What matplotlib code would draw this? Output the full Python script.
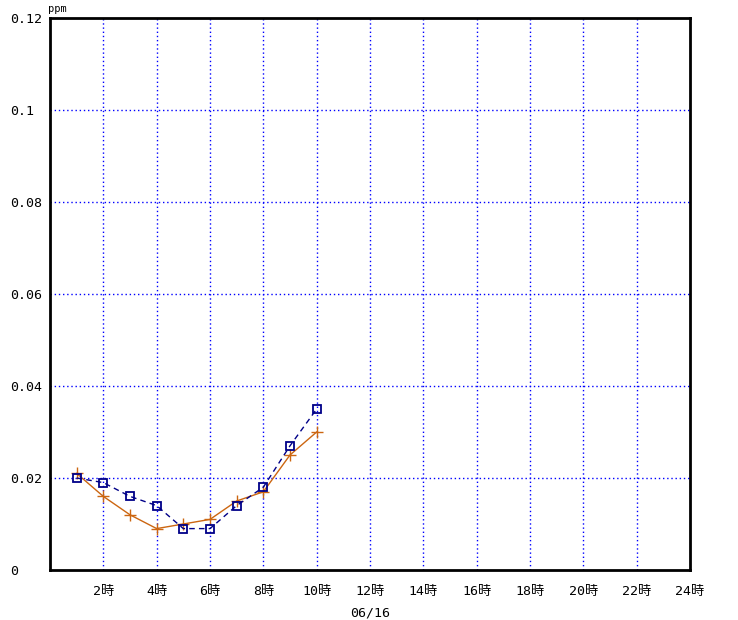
import matplotlib
matplotlib.use("Agg")
import matplotlib.pyplot as plt

plt.rcParams['font.family'] = ['DejaVu Sans Mono', 'Noto Sans CJK JP']

# data
hours = [1, 2, 3, 4, 5, 6, 7, 8, 9, 10]
blue_vals = [0.020, 0.019, 0.016, 0.014, 0.009, 0.009, 0.014, 0.018, 0.027, 0.035]
orange_vals = [0.021, 0.016, 0.012, 0.009, 0.010, 0.011, 0.015, 0.017, 0.025, 0.030]
x_ticks = list(range(2, 25, 2))
x_labels = [f"{h}時" for h in x_ticks]
y_ticks = [0, 0.02, 0.04, 0.06, 0.08, 0.1, 0.12]
y_labels = ["0", "0.02", "0.04", "0.06", "0.08", "0.1", "0.12"]

fig = plt.figure(figsize=(7.38, 6.2), dpi=100)
ax = fig.add_axes([50 / 738, 50 / 620, 640 / 738, 552 / 620])

ax.plot(hours, orange_vals, color="#cc6611", lw=1, marker="+", ms=8, mew=1)
ax.plot(hours, blue_vals, color="#000088", lw=1, ls=(0, (4, 3)), marker="s", ms=6,
        mfc="none", mec="#000088", mew=1.3)

ax.set_xlim(0, 24)
ax.set_ylim(0, 0.12)

ax.set_xticks(x_ticks)
ax.set_xticklabels(x_labels, fontsize=9.5)
ax.set_yticks(y_ticks)
ax.set_yticklabels(y_labels, fontsize=9.5, ha="left")
ax.tick_params(axis="both", length=0)
ax.tick_params(axis="x", pad=11)
ax.tick_params(axis="y", pad=29)

# grid: vertical lines 2..22, horizontal 0.02..0.1
for h in x_ticks[:-1]:
    ax.axvline(h, color="#0000ff", lw=1, ls=(0, (1, 2)), zorder=0)
for v in y_ticks[1:-1]:
    ax.axhline(v, color="#0000ff", lw=1, ls=(0, (1, 2)), zorder=0)

for s in ax.spines.values():
    s.set_linewidth(2)
    s.set_color("black")

ax.set_xlabel("06/16", fontsize=9.5, labelpad=6)
ax.text(-0.003, 1.008, "ppm", transform=ax.transAxes, fontsize=7.5, va="bottom", ha="left")

fig.savefig("out.png", dpi=100)
